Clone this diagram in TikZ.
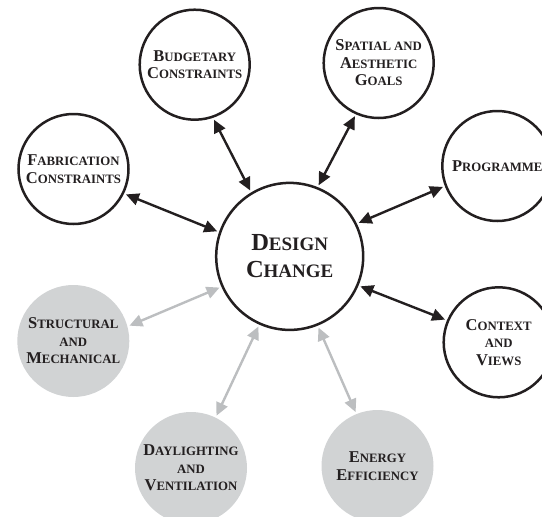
\documentclass[tikz,border=0pt]{standalone}
\usepackage{fontspec}
\setmainfont{Liberation Serif}
\usetikzlibrary{arrows.meta}
\definecolor{ink}{HTML}{231F20}
\definecolor{shade}{HTML}{D1D3D4}
\definecolor{lightink}{HTML}{BCBEC0}
% larger initial letters for the small-caps style labels
\newcommand\Ini[1]{{\fontsize{16.5}{17.5}\selectfont #1}}
\newcommand\IniBig[1]{{\fontsize{24.5}{26.7}\selectfont #1}}
\begin{document}
\begin{tikzpicture}[x=1pt,y=-1pt,
  labelfont/.style={font=\bfseries\fontsize{12.8}{17.5}\selectfont, text=ink},
  factor/.style={circle, draw=ink, line width=2.5pt, minimum size=110pt,
    inner sep=0pt, align=center, labelfont},
  simfactor/.style={circle, fill=shade, minimum size=112pt,
    inner sep=0pt, align=center, labelfont},
  core/.style={circle, draw=ink, line width=2.5pt, minimum size=147pt,
    inner sep=0pt, align=center, text=ink,
    font=\bfseries\fontsize{19}{26.7}\selectfont},
  link/.style={{Triangle[length=13pt,width=12pt]}-{Triangle[length=13pt,width=12pt]},
    line width=2.4pt, draw=ink, shorten <=2pt, shorten >=2pt},
  simlink/.style={link, draw=lightink}]
\useasboundingbox (0,0) rectangle (542,517);

% central node
\node[core] (des) at (289.7,256.4) {\IniBig{D}ESIGN\\\IniBig{C}HANGE};

% design factors
\node[factor] (bud) at (194.7,64.7) {\Ini{B}UDGETARY\\\Ini{C}ONSTRAINTS};
\node[factor] (spa) at (378.7,63) {\Ini{S}PATIAL AND\\\Ini{A}ESTHETIC\\\Ini{G}OALS};
\node[factor] (fab) at (73.5,169) {\Ini{F}ABRICATION\\\Ini{C}ONSTRAINTS};
\node[factor] (pro) at (497.3,166) {\Ini{P}ROGRAMME};
\node[factor] (ctx) at (498.7,342.3) {\Ini{C}ONTEXT\\AND\\\Ini{V}IEWS};

% simulation-driven factors
\node[simfactor] (str) at (73.3,341) {\Ini{S}TRUCTURAL\\AND\\\Ini{M}ECHANICAL};
\node[simfactor] (day) at (191,468) {\Ini{D}AYLIGHTING\\AND\\\Ini{V}ENTILATION};
\node[simfactor] (ene) at (377.5,466) {\Ini{E}NERGY\\\Ini{E}FFICIENCY};

% two-way links
\draw[link] (bud.-71) -- (des.121);
\draw[link] (spa.-114) -- (des.68);
\draw[link] (fab.-26) -- (des.161);
\draw[link] (pro.-159) -- (des.26);
\draw[link] (ctx.157) -- (des.-23);
\draw[simlink] (str.15) -- (des.-156);
\draw[simlink] (day.64) -- (des.-114);
\draw[simlink] (ene.112) -- (des.-68);
\end{tikzpicture}
\end{document}
